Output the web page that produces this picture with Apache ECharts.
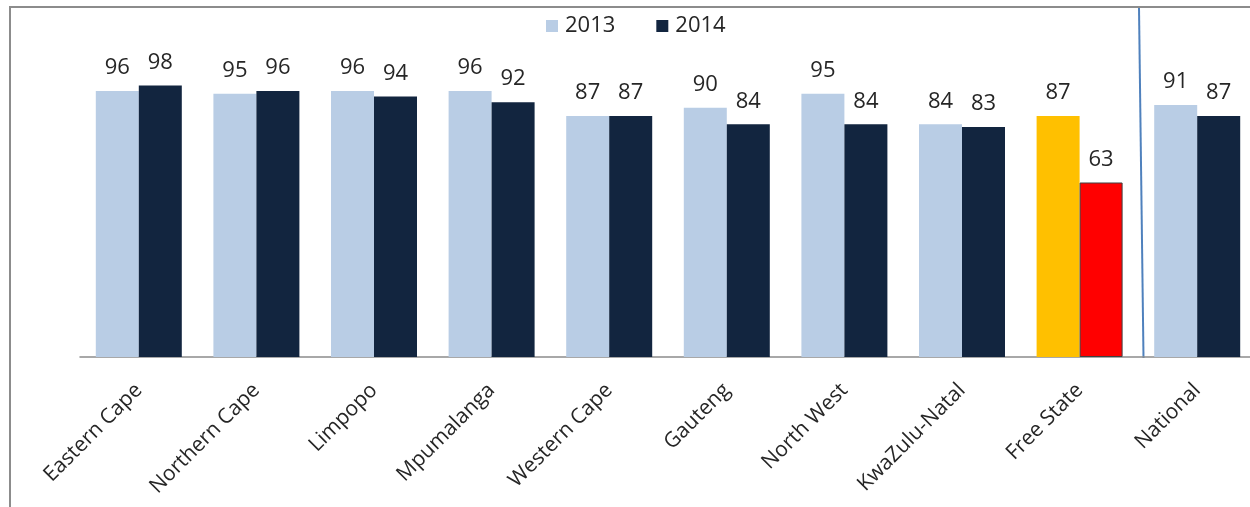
<!DOCTYPE html>
<html><head><meta charset="utf-8">
<script src="https://cdn.jsdelivr.net/npm/echarts@6/dist/echarts.min.js"></script>
<style>html,body{margin:0;padding:0;background:#fff;overflow:hidden}#c{width:1256px;height:507px}</style>
</head><body><div id="c"></div>
<script>
const categories = ['Eastern Cape','Northern Cape','Limpopo','Mpumalanga','Western Cape','Gauteng','North West','KwaZulu-Natal','Free State','National'];
const values2013 = [96,95,96,96,87,90,95,84,87,91];
const values2014 = [98,96,94,92,87,84,84,83,63,87];
const highlightIndex = 8;

const FONT = '"Open Sans", "Liberation Sans", sans-serif';
const chart = echarts.init(document.getElementById('c'));
const lbl = {show:true, position:'top', distance:12, color:'#262626', fontSize:22, fontFamily:FONT};
chart.setOption({
  animation:false,
  textStyle:{fontFamily:FONT},
  legend:{top:15, left:546, padding:0, itemWidth:12, itemHeight:12, itemGap:41, icon:'rect',
    textStyle:{fontSize:22, color:'#262626', fontFamily:FONT, padding:[0,0,0,2]},
    data:['2013','2014']},
  grid:{left:80, right:0, top:80, bottom:150, containLabel:false},
  xAxis:{type:'category', data:categories,
    axisLine:{lineStyle:{color:'#8c8c8c', width:1.5}},
    axisTick:{show:false},
    axisLabel:{rotate:45, margin:30, interval:0, fontSize:21, color:'#262626', fontFamily:FONT}},
  yAxis:{type:'value', min:0, max:100, show:false, splitLine:{show:false}},
  series:[
    {name:'2013', type:'bar', barWidth:43, barGap:'0%', itemStyle:{color:'#B9CDE5'}, label:lbl,
     data:values2013.map((v,i)=> i===highlightIndex ? {value:v, itemStyle:{color:'#FFC000'}} : v)},
    {name:'2014', type:'bar', barWidth:43, barGap:'0%', itemStyle:{color:'#12253F'}, label:lbl,
     data:values2014.map((v,i)=> i===highlightIndex ? {value:v, itemStyle:{color:'#FF0000', borderColor:'#404040', borderWidth:1}} : v)}
  ],
  graphic:[
    {type:'rect', shape:{x:10, y:7, width:1300, height:560}, style:{fill:'none', stroke:'#8c8c8c', lineWidth:2}, silent:true},
    {type:'line', shape:{x1:1139, y1:8, x2:1143.5, y2:358}, style:{stroke:'#4F81BD', lineWidth:2}, silent:true}
  ]
});
</script></body></html>
